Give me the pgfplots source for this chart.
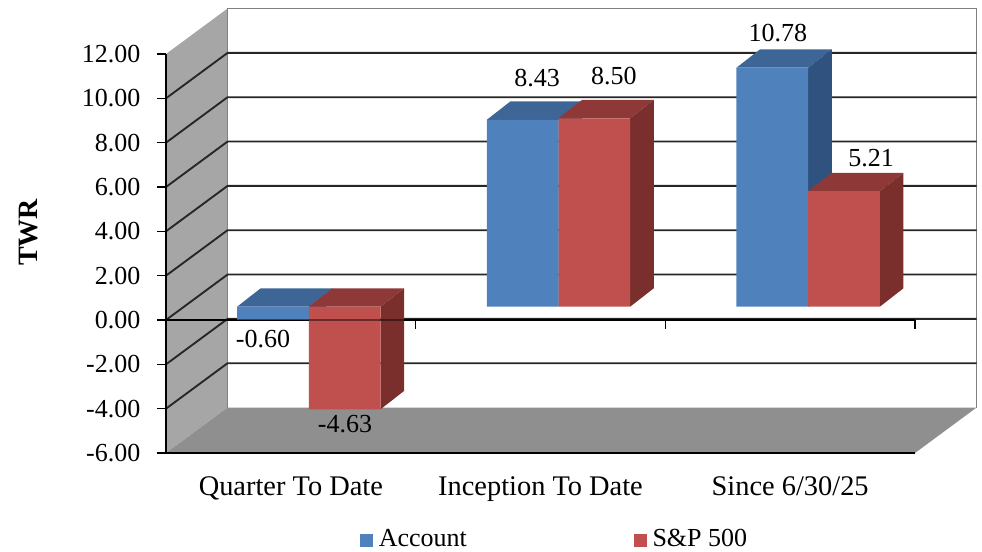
\documentclass[border=0pt]{standalone}
\usepackage{fontspec}
\setmainfont{Liberation Serif}
\usepackage{pgfplots}
\pgfplotsset{compat=1.18}
\definecolor{bluef}{HTML}{4F81BD}
\definecolor{bluet}{HTML}{3D6595}
\definecolor{blues}{HTML}{30527F}
\definecolor{redf}{HTML}{C0504D}
\definecolor{redt}{HTML}{8E3937}
\definecolor{reds}{HTML}{7B2F2D}
\definecolor{wallc}{HTML}{A6A6A6}
\definecolor{floorc}{HTML}{8F8F8F}
\newcommand{\chartfont}{\fontsize{19.5}{23}\selectfont}
\newcommand{\catfont}{\fontsize{21.3}{25}\selectfont}
% top and side faces of a bar: left edge, top value, bottom value, colours
\newcommand{\extrude}[5]{%
  \pgfmathsetmacro{\xa}{#1}\pgfmathsetmacro{\xb}{#1+0.2872}%
  \pgfmathsetmacro{\xc}{#1+0.0945}\pgfmathsetmacro{\xd}{#1+0.2872+0.0945}%
  \pgfmathsetmacro{\ya}{#2}\pgfmathsetmacro{\yb}{#2+0.83}\pgfmathsetmacro{\yc}{#3}\pgfmathsetmacro{\yd}{#3+0.83}%
  \addplot[forget plot,fill=#4,draw=none] coordinates {(\xa,\ya)(\xb,\ya)(\xd,\yb)(\xc,\yb)};
  \addplot[forget plot,fill=#5,draw=none] coordinates {(\xb,\ya)(\xd,\yb)(\xd,\yd)(\xb,\yc)};
}
\begin{document}
\begin{tikzpicture}
\useasboundingbox (0,0) rectangle (736.5pt,413.25pt);
\begin{axis}[
  at={(124.5pt,73.5pt)},anchor=south west,
  scale only axis,width=561.75pt,height=299.25pt,
  xmin=0,xmax=3,ymin=-6,ymax=12,clip=false,axis on top=true,
  axis x line*=bottom,axis y line*=left,
  axis line style={black,line width=1.1pt,-},
  xtick={0.5,1.5,2.5},
  xticklabels={Quarter To Date,Inception To Date,Since 6/30/25},
  x tick style={draw=none},major tick length=6.75pt,
  xticklabel style={font=\catfont,anchor=base,yshift=-25.2pt},
  ytick={-6,-4,...,12},
  y tick style={black,line width=0.9pt},tick align=outside,
  yticklabel style={font=\chartfont,xshift=-9pt,
    /pgf/number format/fixed,/pgf/number format/fixed zerofill,
    /pgf/number format/precision=2,/pgf/number format/assume math mode=true},
  ylabel={\textbf{TWR}},
  ylabel style={font=\fontsize{21}{25}\selectfont,at={(axis description cs:-0.184,0.553)},anchor=center,rotate=0},
]
% side wall, floor
\addplot[fill=wallc,draw=none] coordinates {(0,-6)(0.2465,-3.95)(0.2465,14.05)(0,12)};
\addplot[fill=floorc,draw=none] coordinates {(0,-6)(0.2465,-3.95)(3.2465,-3.95)(3,-6)};
% walls' edges
\addplot[gray,line width=1.3pt] coordinates {(0.2465,-3.95)(0.2465,14.05)(3.2465,14.05)(3.2465,-3.95)};
% grid: side-wall diagonal and back wall
\pgfplotsinvokeforeach{-4,-2,0,2,4,6,8,10}{
  \addplot[black!85,line width=1.4pt] coordinates {(0,#1)(0.2465,#1+2.05)(3.2465,#1+2.05)};
}
\addplot[black,line width=1.4pt] coordinates {(0,0)(3,0)};
\addplot[black,line width=0.9pt] coordinates {(1,0)(1,-0.41)};
\addplot[black,line width=0.9pt] coordinates {(2,0)(2,-0.41)};
\addplot[black,line width=0.9pt] coordinates {(3,0)(3,-0.41)};
\end{axis}
\begin{axis}[
  at={(138pt,83.5pt)},anchor=south west,
  scale only axis,width=561.75pt,height=299.25pt,
  xmin=0,xmax=3,ymin=-6,ymax=12,clip=false,hide axis,
  legend columns=2,
  legend style={draw=none,fill=none,font=\chartfont,at={(0.229,-0.2475)},anchor=west,
    /tikz/every even column/.append style={column sep=123pt},
    /tikz/every odd column/.append style={column sep=2.5pt}},
]
% Account
\extrude{0.2128}{0}{-0.60}{bluet}{blues}
\extrude{1.2128}{8.43}{0}{bluet}{blues}
\extrude{2.2128}{10.78}{0}{bluet}{blues}
\addplot[ybar,fill=bluef,draw=none,bar width=53.8pt,bar shift=-26.9pt,
  legend image code/.code={\fill[bluef] (0pt,-6.4pt) rectangle (9.75pt,3.35pt);}]
  coordinates {(0.5,-0.60)(1.5,8.43)(2.5,10.78)};
\addlegendentry{Account}
% S&P 500
\extrude{0.5}{0}{-4.63}{redt}{reds}
\extrude{1.5}{8.50}{0}{redt}{reds}
\extrude{2.5}{5.21}{0}{redt}{reds}
\addplot[ybar,fill=redf,draw=none,bar width=53.8pt,bar shift=26.9pt,
  legend image code/.code={\fill[redf] (0pt,-6.4pt) rectangle (9.75pt,3.35pt);}]
  coordinates {(0.5,-4.63)(1.5,8.50)(2.5,5.21)};
\addlegendentry{S\&P 500}
\addplot[forget plot,black,opacity=0.45,line width=1.4pt] coordinates {(-0.0721,-0.6)(2.9279,-0.6)};
\node[font=\chartfont] at (axis cs:0.3164,-1.457) {-0.60};
\node[font=\chartfont] at (axis cs:0.6449,-5.291) {-4.63};
\node[font=\chartfont] at (axis cs:1.414,10.316) {8.43};
\node[font=\chartfont] at (axis cs:1.722,10.406) {8.50};
\node[font=\chartfont] at (axis cs:2.379,12.345) {10.78};
\node[font=\chartfont] at (axis cs:2.752,6.707) {5.21};
\end{axis}
\end{tikzpicture}
\end{document}
